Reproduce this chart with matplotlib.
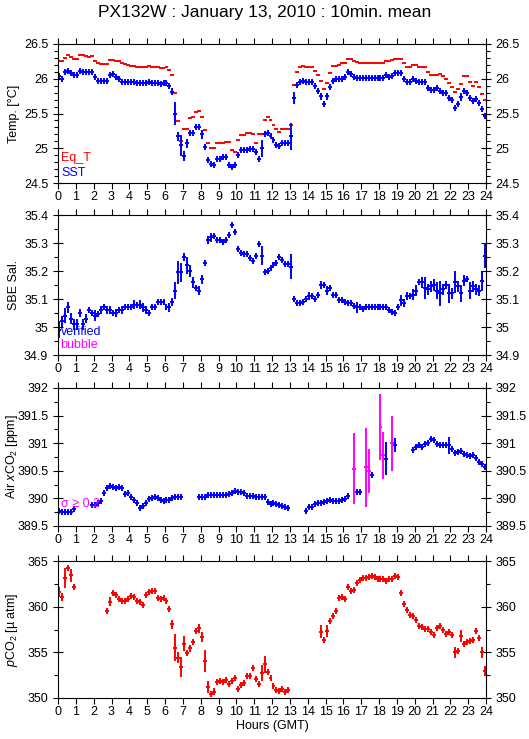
import numpy as np
import matplotlib
matplotlib.use("Agg")
import matplotlib.pyplot as plt
from matplotlib.ticker import MultipleLocator, FuncFormatter

plt.rcParams['font.family'] = ['Liberation Sans', 'DejaVu Sans']
plt.rcParams['mathtext.fontset'] = 'custom'
plt.rcParams['mathtext.rm'] = 'Liberation Sans'
plt.rcParams['mathtext.it'] = 'Liberation Sans:italic'

nan = np.nan

# 10-min means, one row per hour (6 values each)
eq_t = [
    26.26, 26.26, 26.30, 26.34, 26.32, 26.28,
    26.28, 26.34, 26.34, 26.33, 26.32, 26.33,
    26.26, 26.22, 26.21, 26.21, 26.21, 26.27,
    26.27, 26.26, 26.25, 26.23, 26.21, 26.20,
    26.19, 26.19, 26.17, 26.17, 26.17, 26.17,
    26.18, 26.17, 26.17, 26.17, 26.15, 26.16,
    26.17, 26.12, 26.06, 25.80, 25.39, 25.10,
    25.27, 25.27, 25.44, 25.45, 25.52, 25.54,
    25.45, 25.26, 25.07, 25.00, 25.00, 25.07,
    25.07, 25.08, 25.09, 25.09, 24.98, 24.95,
    25.12, 25.19, 25.19, 25.22, 25.22, 25.20,
    25.07, 25.21, 25.21, 25.41, 25.45, 25.40,
    25.34, 25.27, 25.24, 25.28, 25.28, 25.28,
    25.33, 25.91, 26.10, 26.17, 26.18, 26.17,
    26.17, 26.17, 26.11, 26.06, 25.97, 25.85,
    25.94, 26.08, 26.19, 26.19, 26.20, 26.23,
    26.23, 26.29, 26.285, 26.26, 26.24, 26.225,
    26.225, 26.225, 26.225, 26.225, 26.225, 26.225,
    26.225, 26.225, 26.25, 26.25, 26.27, 26.285,
    26.29, 26.29, 26.225, 26.17, 26.17, 26.20,
    26.20, 26.17, 26.17, 26.17, 26.10, 26.06,
    26.06, 26.06, 26.07, 26.04, 26.00, 25.94,
    25.88, 25.81, 25.85, 25.93, 26.04, 26.04,
    25.96, 25.90, 25.95, 25.88, 25.78, 25.69,
]

sst = [
    26.04, 26.00, 26.10, 26.115, 26.08, 26.06,
    26.06, 26.11, 26.09, 26.09, 26.09, 26.09,
    26.02, 25.97, 25.97, 25.97, 25.97, 26.05,
    26.07, 26.03, 26.00, 25.96, 25.95, 25.95,
    25.95, 25.95, 25.94, 25.94, 25.94, 25.94,
    25.955, 25.94, 25.94, 25.94, 25.93, 25.94,
    25.94, 25.90, 25.81, 25.50, 25.17, 25.04,
    24.89, 25.07, 25.22, 25.22, 25.31, 25.31,
    25.20, 25.02, 24.83, 24.78, 24.76, 24.85,
    24.85, 24.87, 24.87, 24.76, 24.73, 24.76,
    24.90, 24.97, 24.97, 24.97, 24.99, 24.99,
    24.94, 24.84, 25.00, 25.20, 25.22, 25.18,
    25.12, 25.05, 25.03, 25.07, 25.07, 25.07,
    25.17, 25.72, 25.91, 25.95, 25.97, 25.95,
    25.95, 25.95, 25.89, 25.82, 25.75, 25.63,
    25.75, 25.88, 25.97, 25.99, 25.99, 25.99,
    26.03, 26.09, 26.07, 26.03, 26.01, 26.01,
    26.01, 26.01, 26.01, 26.01, 26.01, 26.01,
    26.01, 26.01, 26.05, 26.03, 26.04, 26.08,
    26.08, 26.08, 26.00, 25.95, 25.95, 25.99,
    25.97, 25.95, 25.95, 25.95, 25.87, 25.84,
    25.84, 25.86, 25.83, 25.80, 25.80, 25.73,
    25.69, 25.58, 25.64, 25.74, 25.82, 25.80,
    25.72, 25.68, 25.71, 25.65, 25.56, 25.47,
]

sst_err = [
    0.03, 0.02, 0.02, 0.02, 0.02, 0.02,
    0.02, 0.02, 0.02, 0.02, 0.02, 0.02,
    0.02, 0.02, 0.02, 0.02, 0.02, 0.02,
    0.02, 0.02, 0.02, 0.02, 0.02, 0.02,
    0.02, 0.02, 0.02, 0.02, 0.02, 0.02,
    0.02, 0.02, 0.02, 0.02, 0.02, 0.02,
    0.02, 0.02, 0.05, 0.17, 0.07, 0.15,
    0.07, 0.07, 0.03, 0.02, 0.03, 0.02,
    0.06, 0.03, 0.03, 0.02, 0.02, 0.02,
    0.02, 0.02, 0.02, 0.02, 0.02, 0.02,
    0.02, 0.02, 0.02, 0.02, 0.02, 0.02,
    0.02, 0.03, 0.12, 0.03, 0.02, 0.02,
    0.02, 0.02, 0.02, 0.02, 0.02, 0.02,
    0.19, 0.09, 0.03, 0.02, 0.02, 0.02,
    0.02, 0.02, 0.02, 0.02, 0.05, 0.02,
    0.05, 0.02, 0.02, 0.02, 0.02, 0.02,
    0.02, 0.02, 0.02, 0.02, 0.02, 0.02,
    0.02, 0.02, 0.02, 0.02, 0.02, 0.02,
    0.02, 0.02, 0.02, 0.02, 0.02, 0.02,
    0.02, 0.02, 0.02, 0.02, 0.02, 0.02,
    0.02, 0.02, 0.02, 0.02, 0.02, 0.02,
    0.02, 0.02, 0.02, 0.02, 0.02, 0.02,
    0.02, 0.02, 0.02, 0.06, 0.02, 0.02,
    0.02, 0.02, 0.02, 0.02, 0.02, 0.03,
]

sal = [
    34.99, 35.02, 35.04, 35.07, 35.03, 35.01,
    35.01, 35.05, 35.01, 35.03, 35.06, 35.05,
    35.04, 35.045, 35.06, 35.07, 35.06, 35.06,
    35.05, 35.05, 35.06, 35.06, 35.07, 35.07,
    35.07, 35.08, 35.08, 35.08, 35.07, 35.06,
    35.05, 35.07, 35.07, 35.09, 35.09, 35.09,
    35.07, 35.07, 35.09, 35.13, 35.195, 35.195,
    35.25, 35.22, 35.20, 35.16, 35.14, 35.13,
    35.17, 35.23, 35.31, 35.32, 35.325, 35.31,
    35.31, 35.305, 35.31, 35.33, 35.365, 35.34,
    35.28, 35.265, 35.26, 35.26, 35.245, 35.235,
    35.255, 35.295, 35.255, 35.195, 35.20, 35.21,
    35.22, 35.23, 35.25, 35.24, 35.225, 35.225,
    35.215, 35.10, 35.085, 35.085, 35.09, 35.10,
    35.11, 35.11, 35.10, 35.115, 35.15, 35.15,
    35.13, 35.14, 35.115, 35.115, 35.095, 35.095,
    35.09, 35.085, 35.085, 35.075, 35.07, 35.07,
    35.065, 35.07, 35.07, 35.07, 35.07, 35.07,
    35.07, 35.07, 35.07, 35.06, 35.055, 35.05,
    35.07, 35.095, 35.085, 35.11, 35.11, 35.115,
    35.13, 35.16, 35.16, 35.14, 35.135, 35.145,
    35.15, 35.13, 35.12, 35.135, 35.15, 35.12,
    35.12, 35.16, 35.145, 35.12, 35.165, 35.17,
    35.13, 35.145, 35.135, 35.13, 35.165, 35.255,
]

sal_err = [
    0.03, 0.02, 0.027, 0.02, 0.02, 0.02,
    0.02, 0.015, 0.02, 0.015, 0.01, 0.01,
    0.02, 0.01, 0.015, 0.01, 0.015, 0.015,
    0.01, 0.015, 0.01, 0.015, 0.01, 0.01,
    0.01, 0.015, 0.01, 0.015, 0.015, 0.015,
    0.01, 0.01, 0.01, 0.01, 0.01, 0.01,
    0.01, 0.015, 0.015, 0.03, 0.04, 0.035,
    0.015, 0.03, 0.02, 0.02, 0.01, 0.015,
    0.015, 0.01, 0.015, 0.015, 0.01, 0.01,
    0.01, 0.01, 0.01, 0.01, 0.005, 0.01,
    0.01, 0.01, 0.005, 0.005, 0.01, 0.01,
    0.005, 0.01, 0.035, 0.01, 0.01, 0.005,
    0.01, 0.01, 0.01, 0.01, 0.01, 0.01,
    0.045, 0.01, 0.005, 0.005, 0.005, 0.01,
    0.015, 0.01, 0.01, 0.01, 0.015, 0.01,
    0.015, 0.01, 0.01, 0.01, 0.01, 0.01,
    0.01, 0.01, 0.01, 0.01, 0.02, 0.01,
    0.01, 0.01, 0.005, 0.005, 0.005, 0.005,
    0.005, 0.005, 0.005, 0.005, 0.01, 0.01,
    0.01, 0.02, 0.015, 0.015, 0.01, 0.02,
    0.02, 0.01, 0.02, 0.04, 0.02, 0.02,
    0.02, 0.03, 0.045, 0.02, 0.015, 0.035,
    0.02, 0.04, 0.02, 0.03, 0.02, 0.01,
    0.03, 0.02, 0.02, 0.02, 0.035, 0.045,
]

xco2 = [
    389.78, 389.755, 389.755, 389.755, 389.76, 389.80,
    nan, nan, nan, nan, nan, 389.875,
    389.88, 389.91, 389.955, 390.10, 390.18, 390.23,
    390.21, 390.19, 390.20, 390.18, 390.08, 390.09,
    390.02, 389.97, 389.91, 389.83, 389.86, 389.91,
    389.99, 390.00, 390.03, 390.01, 389.97, 389.955,
    389.97, 389.98, 390.00, 390.03, 390.03, 390.03,
    nan, nan, nan, nan, nan, 390.02,
    390.02, 390.03, 390.06, 390.065, 390.065, 390.06,
    390.06, 390.065, 390.07, 390.08, 390.10, 390.13,
    390.125, 390.11, 390.09, 390.05, 390.04, 390.05,
    390.03, 390.03, 390.03, 390.02, 389.93, 389.90,
    389.91, 389.895, 389.88, 389.87, 389.85, 389.83,
    nan, nan, nan, nan, nan, 389.77,
    389.85, 389.85, 389.895, 389.92, 389.92, 389.93,
    389.955, 389.97, 389.95, 389.95, 389.955, 389.97,
    389.99, 390.04, nan, 390.54, 390.125, 390.125,
    nan, 390.56, 390.50, 390.43, nan, nan,
    391.30, 390.78, 390.72, nan, 391.00, 390.97,
    nan, nan, nan, nan, nan, 390.88,
    390.93, 390.97, 390.93, 390.99, 391.01, 391.07,
    391.06, 390.99, 390.96, 390.96, 390.96, 390.96,
    390.89, 390.83, 390.84, 390.85, 390.80, 390.78,
    390.76, 390.78, 390.73, 390.66, 390.62, 390.57,
]

xco2_err = [0.03] * 144
xco2_err[99] = 0.64
xco2_err[100] = 0.04
xco2_err[101] = 0.04
xco2_err[103] = 0.71
xco2_err[104] = 0.40
xco2_err[105] = 0.05
xco2_err[108] = 0.60
xco2_err[109] = 0.43
xco2_err[110] = 0.30
xco2_err[112] = 0.50
xco2_err[113] = 0.13
xco2_err[131] = 0.15

pco2 = [
    361.6, 361.07, 363.14, 364.24, 363.43, 362.16,
    nan, nan, nan, nan, nan, nan,
    nan, nan, nan, nan, 359.5, 360.52,
    361.47, 361.25, 360.89, 360.67, 360.67, 360.81,
    361.18, 361.1, 360.6, 360.52, 360.23, 361.25,
    361.6, 361.69, 361.76, 360.96, 360.89, 360.96,
    360.6, 359.72, 358.05, 355.5, 354.4, 353.42,
    355.94, 354.92, 355.43, 356.15, 357.32, 357.61,
    356.66, 354.04, 351.17, 350.4, 350.69, 351.79,
    351.86, 351.79, 351.93, 351.49, 351.86, 352.15,
    350.98, 351.42, 351.64, 352.44, 352.44, 353.24,
    352.08, 351.49, 352.73, 353.68, 352.88, 352.15,
    351.33, 350.91, 350.82, 350.97, 350.69, 350.89,
    nan, nan, nan, nan, nan, nan,
    nan, nan, nan, nan, 357.25, 356.3,
    357.32, 358.41, 358.99, 359.5, 360.96, 361.1,
    360.89, 362.12, 361.69, 361.87, 362.56, 362.89,
    363.14, 363.18, 363.22, 363.36, 363.25, 363.07,
    363.07, 363.07, 362.78, 363.0, 363.07, 363.36,
    363.22, 361.54, 360.3, 359.65, 359.14, 358.99,
    358.56, 357.9, 357.79, 357.54, 357.54, 357.25,
    356.95, 357.61, 357.9, 357.43, 357.03, 357.25,
    356.95, 354.99, 355.13, 356.81, 355.94, 356.15,
    356.23, 356.37, 357.32, 356.59, 354.99, 352.95,
]

pco2_err = [
    0.5, 0.45, 1.1, 0.35, 0.7, 0.25,
    0.2, 0.2, 0.2, 0.2, 0.2, 0.2,
    0.2, 0.2, 0.2, 0.2, 0.25, 0.5,
    0.2, 0.2, 0.2, 0.2, 0.2, 0.2,
    0.2, 0.2, 0.2, 0.2, 0.2, 0.3,
    0.2, 0.2, 0.2, 0.2, 0.2, 0.2,
    0.2, 0.2, 0.5, 1.5, 0.6, 1.1,
    0.8, 0.3, 0.4, 0.3, 0.25, 0.5,
    0.55, 1.2, 0.65, 0.3, 0.4, 0.2,
    0.2, 0.2, 0.2, 0.2, 0.3, 0.3,
    0.2, 0.2, 0.2, 0.2, 0.2, 0.3,
    0.3, 0.2, 0.9, 0.95, 0.2, 0.3,
    0.2, 0.2, 0.2, 0.2, 0.2, 0.2,
    0.2, 0.2, 0.2, 0.2, 0.2, 0.2,
    0.2, 0.2, 0.2, 0.2, 0.7, 0.2,
    0.65, 0.2, 0.2, 0.3, 0.3, 0.3,
    0.2, 0.2, 0.2, 0.2, 0.2, 0.2,
    0.2, 0.2, 0.2, 0.2, 0.2, 0.2,
    0.2, 0.2, 0.2, 0.2, 0.2, 0.2,
    0.2, 0.3, 0.3, 0.2, 0.2, 0.2,
    0.2, 0.2, 0.2, 0.2, 0.2, 0.2,
    0.2, 0.3, 0.3, 0.2, 0.2, 0.2,
    0.2, 0.6, 0.3, 0.65, 0.2, 0.2,
    0.2, 0.3, 0.3, 0.3, 0.6, 0.5,
]

t = (np.arange(144) + 0.5) / 6.0


def draw(ax, vals, errs, color, mask=None, cross=True):
    v = np.array(vals, dtype=float)
    e = np.array(errs, dtype=float)
    ok = ~np.isnan(v)
    if mask is not None:
        ok = ok & mask
    ax.errorbar(t[ok], v[ok], xerr=0.11, yerr=e[ok], fmt='none',
                ecolor=color, elinewidth=1.4, capsize=0)
    if cross:
        # small vertical stroke so every mean shows as a "+"
        ax.plot(t[ok], v[ok], ls='none', marker='|', ms=5, mew=1.4, color=color)


def setup(ax, ylo, yhi, major, minor, ylabel):
    ax.set_xlim(0, 24)
    ax.set_ylim(ylo, yhi)
    ax.set_xticks(range(25))
    ax.tick_params(axis='x', which='major', direction='out', length=4,
                   top=True, bottom=True, labelsize=9, pad=2, width=0.8)
    ax.yaxis.set_major_locator(MultipleLocator(major))
    ax.yaxis.set_minor_locator(MultipleLocator(minor))
    ax.yaxis.set_major_formatter(FuncFormatter(lambda v, p: '%g' % round(v, 3)))
    ax.tick_params(axis='y', which='major', direction='inout', length=7,
                   left=True, right=True, labelleft=True, labelright=True,
                   labelsize=9, width=0.8)
    ax.tick_params(axis='y', which='minor', direction='out', length=3,
                   left=True, right=True, width=0.8)
    for s in ax.spines.values():
        s.set_linewidth(0.8)
    ax.set_ylabel(ylabel, fontsize=9)
    ax.yaxis.set_label_coords(-0.088, 0.5)


fig = plt.figure(figsize=(5.29, 7.39), dpi=100)
W, H = 529.0, 739.0
left, width = 58 / W, 428 / W
panels = [(44, 183), (215, 355), (388, 526), (561, 698)]
axs = [fig.add_axes([left, 1 - b / H, width, (b - tp) / H]) for tp, b in panels]

fig.text(0.5, 1 - 13 / H, 'PX132W : January 13, 2010 : 10min. mean',
         ha='center', va='center', fontsize=12.5)

ax = axs[0]
setup(ax, 24.5, 26.5, 0.5, 0.1, 'Temp. [°C]')
draw(ax, eq_t, [0.005] * 144, 'red', cross=False)
draw(ax, sst, sst_err, 'blue')
ax.text(0.008, 0.18, 'Eq_T', color='red', fontsize=9, transform=ax.transAxes, va='center')
ax.text(0.008, 0.075, 'SST', color='blue', fontsize=9, transform=ax.transAxes, va='center')

ax = axs[1]
setup(ax, 34.9, 35.4, 0.1, 0.05, 'SBE Sal.')
draw(ax, sal, sal_err, 'blue')
ax.text(0.006, 0.165, 'verified', color='blue', fontsize=9, transform=ax.transAxes, va='center')
ax.text(0.006, 0.07, 'bubble', color='magenta', fontsize=9, transform=ax.transAxes, va='center')

ax = axs[2]
setup(ax, 389.5, 392, 0.5, 0.25, 'Air $x$CO$_2$ [ppm]')
flag = np.array(xco2_err) >= 0.2
flag[110] = False
draw(ax, xco2, xco2_err, 'blue', ~flag)
draw(ax, xco2, xco2_err, 'magenta', flag, cross=False)
ax.text(0.006, 0.16, 'σ ≥ 0.2', color='magenta', fontsize=9, transform=ax.transAxes, va='center')

ax = axs[3]
setup(ax, 350, 365, 5, 2.5, '$p$CO$_2$ [µ atm]')
draw(ax, pco2, pco2_err, 'red')
ax.set_xlabel('Hours (GMT)', fontsize=9, labelpad=1)

fig.savefig('out.png', dpi=100)
